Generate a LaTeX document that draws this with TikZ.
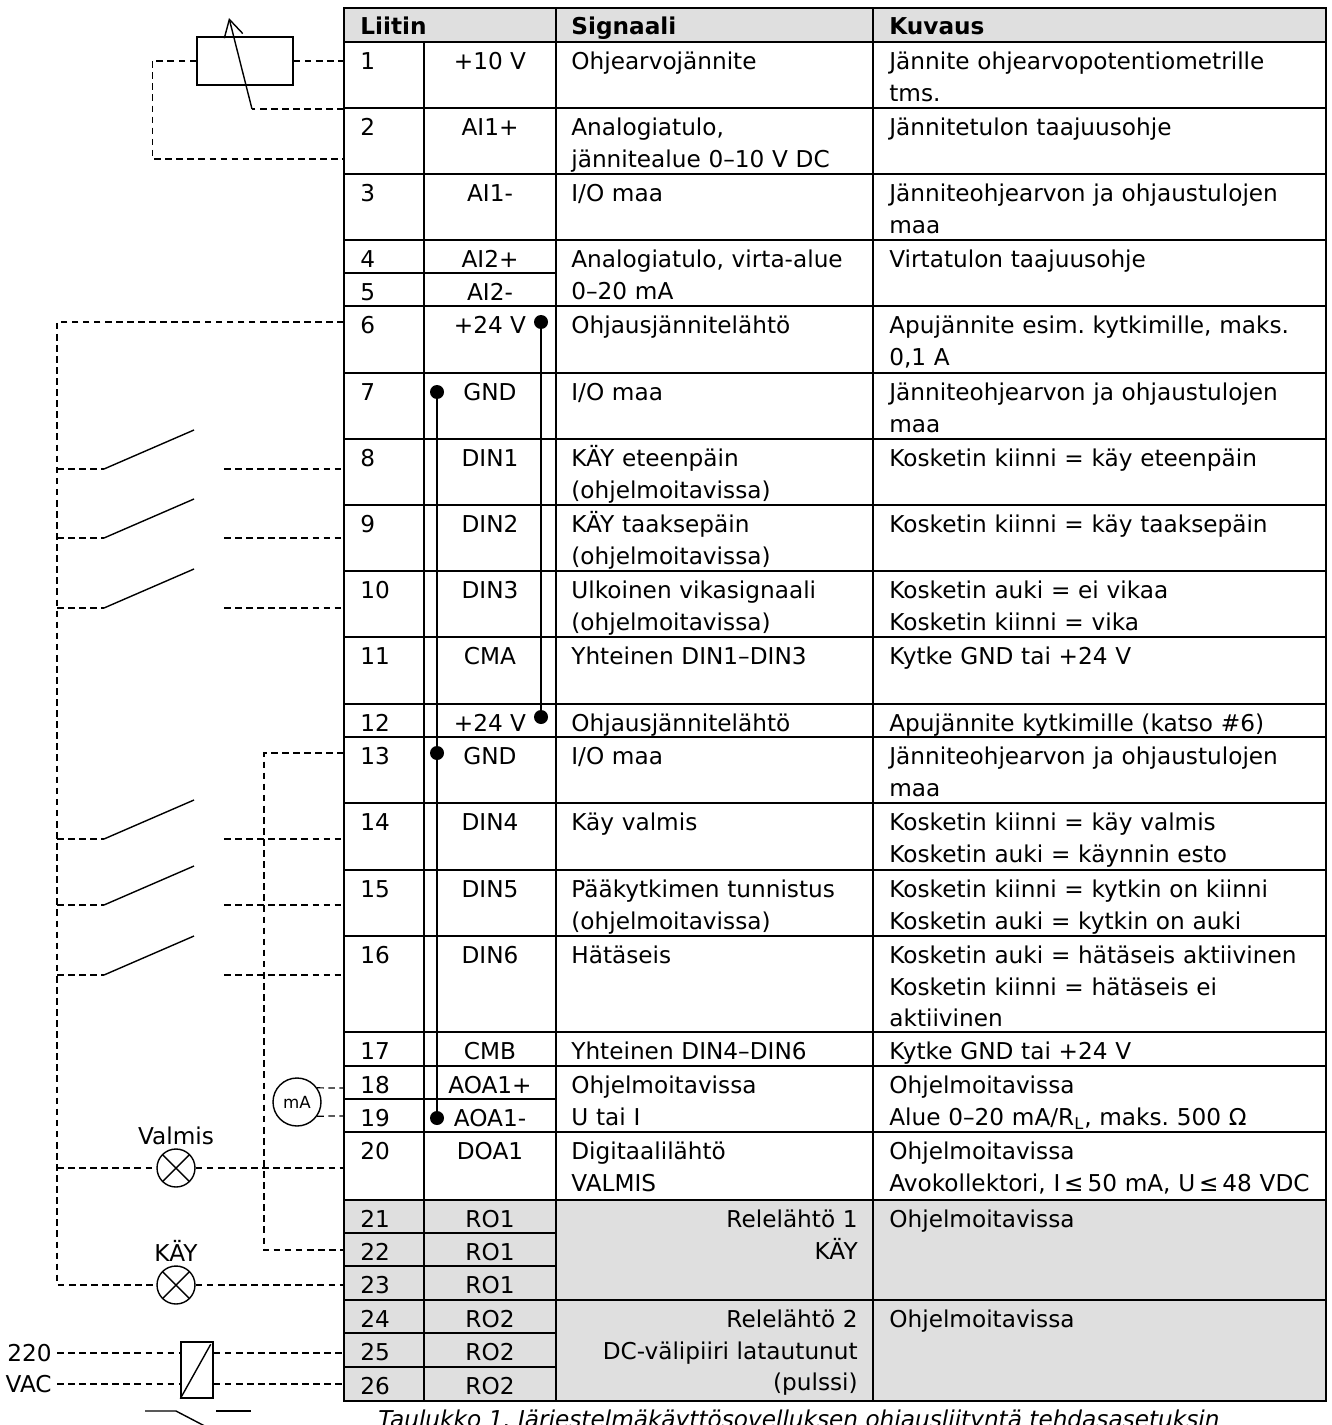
\documentclass[tikz,border=0pt]{standalone}
\usepackage{fontspec}
\setmainfont{DejaVu Sans}
\frenchspacing
\usetikzlibrary{positioning}
\usetikzlibrary{arrows.meta}

\tikzset{
  wire/.style={line width=0.7pt, dash pattern=on 3.8pt off 2.5pt},
  rule/.style={line width=1pt},
  swline/.style={line width=0.8pt},
  txt/.style={inner sep=0pt, font=\fontsize{13.2}{18}\selectfont},
  head/.style={txt, anchor=base west, font=\fontsize{13.2}{18}\selectfont\bfseries},
  cell/.style={txt, anchor=base west, align=left, text width=#1},
  dot/.style={circle, fill, inner sep=0pt, minimum size=0.28cm},
  lamp/.style={draw, circle, line width=0.8pt, minimum size=0.76cm, inner sep=0pt,
    path picture={\draw[line width=0.8pt] (path picture bounding box.north west) -- (path picture bounding box.south east)
      (path picture bounding box.north east) -- (path picture bounding box.south west);}},
}

\begin{document}
\begin{tikzpicture}[x=0.02cm, y=-0.02cm]
\useasboundingbox (0,0) rectangle (1331,1425);

% table
\fill[gray!25] (344,8) rectangle (1326,42);
\fill[gray!25] (344,1200) rectangle (1326,1401);
\draw[rule] (344,8) rectangle (1326,1401);
\draw[rule] (424,42) -- (424,1401);
\draw[rule] (556,8) -- (556,1401);
\draw[rule] (873,8) -- (873,1401);
\foreach \y in {42,108,174,240,306,373,439,505,571,637,704,737,803,870,936,1032,1066,1132,1200,1300}
  \draw[rule] (344,\y) -- (1326,\y);
\foreach \y in {273,1099,1233,1266,1333,1367}
  \draw[rule] (344,\y) -- (556,\y);

\node[head] (hliitin) at (360,35) {Liitin};
\node[head] (hsignaali) at (571,35) {Signaali};
\node[head] (hkuvaus) at (889,35) {Kuvaus};

\foreach \rtop/\pinno/\sname in {42/1/{+10 V},108/2/{AI1+},174/3/{AI1-},240/4/{AI2+},273/5/{AI2-},
  306/6/{+24 V},373/7/{GND},439/8/{DIN1},505/9/{DIN2},571/10/{DIN3},637/11/{CMA},704/12/{+24 V},
  737/13/{GND},803/14/{DIN4},870/15/{DIN5},936/16/{DIN6},1032/17/{CMB},1066/18/{AOA1+},
  1099/19/{AOA1-},1132/20/{DOA1},1200/21/{RO1},1233/22/{RO1},1266/23/{RO1},1300/24/{RO2},
  1333/25/{RO2},1367/26/{RO2}}{
  \node[txt, anchor=base west] (no\pinno) at (360,\rtop+27.5) {\pinno};
  \node[txt, anchor=base] (sg\pinno) at (490,\rtop+27.5) {\sname};
}

\foreach \rtop/\pinno/\txa/\txb in {
  42/1/{Ohjearvojännite}/{Jännite ohjearvopotentiometrille\\tms.},
  108/2/{Analogiatulo,\\jännitealue 0–10 V DC}/{Jännitetulon taajuusohje},
  174/3/{I/O maa}/{Jänniteohjearvon ja ohjaustulojen\\maa},
  240/4/{Analogiatulo, virta-alue\\0–20 mA}/{Virtatulon taajuusohje},
  306/6/{Ohjausjännitelähtö}/{Apujännite esim. kytkimille, maks.\\0,1 A},
  373/7/{I/O maa}/{Jänniteohjearvon ja ohjaustulojen\\maa},
  439/8/{KÄY eteenpäin\\(ohjelmoitavissa)}/{Kosketin kiinni = käy eteenpäin},
  505/9/{KÄY taaksepäin\\(ohjelmoitavissa)}/{Kosketin kiinni = käy taaksepäin},
  571/10/{Ulkoinen vikasignaali\\(ohjelmoitavissa)}/{Kosketin auki = ei vikaa\\Kosketin kiinni = vika},
  637/11/{Yhteinen DIN1–DIN3}/{Kytke GND tai +24 V},
  704/12/{Ohjausjännitelähtö}/{Apujännite kytkimille (katso \#6)},
  737/13/{I/O maa}/{Jänniteohjearvon ja ohjaustulojen\\maa},
  803/14/{Käy valmis}/{Kosketin kiinni = käy valmis\\Kosketin auki = käynnin esto},
  870/15/{Pääkytkimen tunnistus\\(ohjelmoitavissa)}/{Kosketin kiinni = kytkin on kiinni\\Kosketin auki = kytkin on auki},
  936/16/{Hätäseis}/{Kosketin auki = hätäseis aktiivinen\\Kosketin kiinni = hätäseis ei\\aktiivinen},
  1032/17/{Yhteinen DIN4–DIN6}/{Kytke GND tai +24 V},
  1066/18/{Ohjelmoitavissa\\U tai I}/{Ohjelmoitavissa\\Alue 0–20 mA/R\textsubscript{L}, maks. 500 Ω},
  1132/20/{Digitaalilähtö\\VALMIS}/{Ohjelmoitavissa\\Avokollektori, I\,≤\,50 mA, U\,≤\,48 VDC},
  1200/21/{}/{Ohjelmoitavissa},
  1300/24/{}/{Ohjelmoitavissa}}{
  \node[cell=7cm] (sa\pinno) at (571,\rtop+27.5) {\txa};
  \node[cell=10cm] (de\pinno) at (889,\rtop+27.5) {\txb};
}
\node[cell=7cm, align=right, anchor=base east] (rel1) at (858,1227.5) {Relelähtö 1\\KÄY};
\node[cell=7cm, align=right, anchor=base east] (rel2) at (858,1327.5) {Relelähtö 2\\DC-välipiiri latautunut\\(pulssi)};

\node[txt, anchor=base west, font=\fontsize{13.2}{18}\selectfont\itshape] (caption) at (378,1427)
  {Taulukko 1. Järjestelmäkäyttösovelluksen ohjausliityntä tehdasasetuksin};

% common lines inside the table
\node[dot] (d6) at (541,322) {};
\node[dot] (d12) at (541,717) {};
\node[dot] (g7) at (437,392) {};
\node[dot] (g13) at (437,753) {};
\node[dot] (g19) at (437,1118) {};
\draw[swline] (d6.center) -- (d12.center);
\draw[swline] (g7.center) -- (g19.center);

% wire ends at the terminals
\foreach \pinno/\y in {1/61,w/109,2/159,6/322,8/469,9/538,10/608,13/753,14/839,15/905,16/975,
  18/1088,19/1116,20/1168,22/1250,23/1285,25/1353,26/1384}
  \coordinate (t\pinno) at (344,\y);

% potentiometer
\node[draw, line width=0.8pt, minimum width=1.92cm, minimum height=0.96cm] (pot) at (245,61) {};
\coordinate (wip) at (252,109);
\coordinate (tip) at (229,18);
\draw[swline, -{Straight Barb[length=0.34cm,width=0.38cm]}] (wip) -- (tip);
\draw[wire] (tw) -- (wip);
\draw[wire] (pot.east) -- (t1);
\draw[wire] (pot.west) -- ++(-44,0) |- (t2);

% switches
\foreach \y/\pinno in {469/8,538/9,608/10,839/14,905/15,975/16}{
  \coordinate (sw\pinno) at (104,\y);
  \draw[wire] (57,\y) -- (sw\pinno);
  \draw[swline] (sw\pinno) -- ++(90,-39);
  \draw[wire] (224,\y) -- (t\pinno);
}

% lamps, meter, relay
\node[lamp] (valmis) at (176,1168) {};
\node[txt, above=0.07cm of valmis] (lvalmis) {Valmis};
\node[lamp] (kay) at (176,1285) {};
\node[txt, above=0.07cm of kay] (lkay) {KÄY};
\node[draw, circle, line width=0.8pt, minimum size=0.96cm, inner sep=0pt, font=\fontsize{9.5}{11}\selectfont] (ma) at (297,1102) {mA};
\node[draw, line width=0.8pt, minimum width=0.64cm, minimum height=1.12cm, inner sep=0pt] (relay) at (197,1370) {};
\draw[swline] (relay.south west) -- ([xshift=-0.06cm,yshift=-0.06cm]relay.north east);
\node[txt, anchor=east, inner xsep=0.1cm] (v220) at (57,1353) {220};
\node[txt, anchor=east, inner xsep=0.1cm] (vac) at (57,1384) {VAC};

\draw[wire] (t6) -- (57,322) |- (kay.west);
\draw[wire] (kay.east) -- (t23);
\draw[wire] (57,1168) -- (valmis.west) (valmis.east) -- (t20);
\draw[wire] (t13) -- (264,753) |- (t22);
\draw[wire] (ma.35) -- (t18);
\draw[wire] (ma.-35) -- (t19);
\draw[wire] (v220) -- (v220 -| relay.west) (v220 -| relay.east) -- (t25);
\draw[wire] (vac) -- (vac -| relay.west) (vac -| relay.east) -- (t26);

% contact below the relay
\draw[swline] (145,1411) -- (176,1411) -- (222,1435);
\draw[swline] (216,1411) -- (251,1411);
\end{tikzpicture}
\end{document}
